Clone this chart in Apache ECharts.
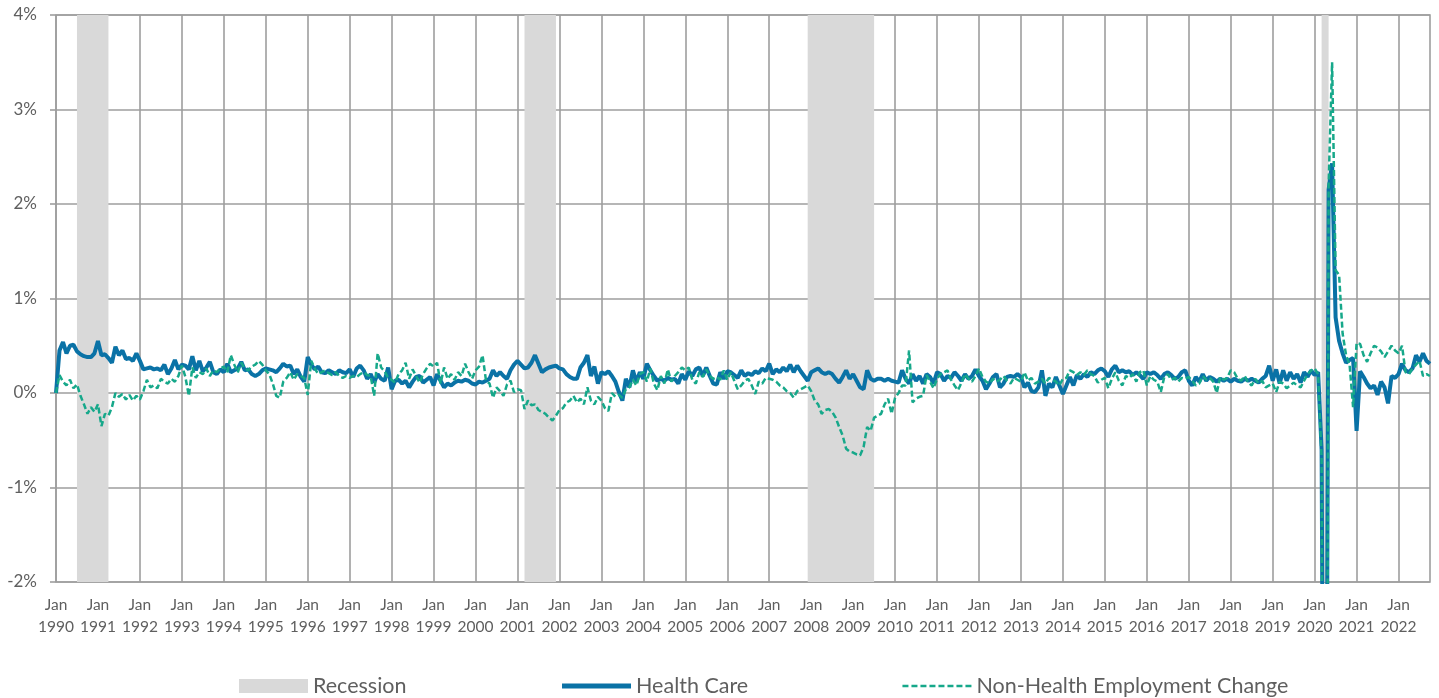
<!DOCTYPE html>
<html>
<head>
<meta charset="utf-8">
<script src="https://cdn.jsdelivr.net/npm/echarts@6/dist/echarts.min.js"></script>
<style>
  html, body { margin: 0; padding: 0; background: #ffffff; }
  #chart { width: 1439px; height: 698px; }
</style>
</head>
<body>
<div id="chart"></div>
<script>
// Monthly % change, Jan 1990 – Oct 2022
const healthCare = [
  0.00, 0.45, 0.54, 0.42, 0.50, 0.51, 0.44, 0.41, 0.39, 0.38, 0.38, 0.42, // 1990
  0.55, 0.40, 0.41, 0.37, 0.32, 0.49, 0.40, 0.45, 0.36, 0.37, 0.34, 0.42, // 1991
  0.34, 0.25, 0.26, 0.27, 0.25, 0.26, 0.24, 0.30, 0.20, 0.26, 0.35, 0.25, // 1992
  0.30, 0.29, 0.25, 0.39, 0.24, 0.34, 0.23, 0.27, 0.33, 0.22, 0.20, 0.25, // 1993
  0.22, 0.31, 0.22, 0.24, 0.26, 0.33, 0.24, 0.25, 0.20, 0.18, 0.20, 0.24, // 1994
  0.26, 0.25, 0.24, 0.22, 0.26, 0.31, 0.28, 0.29, 0.20, 0.25, 0.17, 0.12, // 1995
  0.38, 0.30, 0.25, 0.28, 0.22, 0.21, 0.24, 0.22, 0.20, 0.24, 0.22, 0.21, // 1996
  0.25, 0.17, 0.26, 0.29, 0.24, 0.15, 0.20, 0.11, 0.20, 0.15, 0.13, 0.27, // 1997
  0.04, 0.13, 0.14, 0.10, 0.13, 0.06, 0.12, 0.17, 0.18, 0.11, 0.14, 0.17, // 1998
  0.08, 0.20, 0.13, 0.06, 0.10, 0.08, 0.11, 0.13, 0.12, 0.14, 0.13, 0.10, // 1999
  0.09, 0.12, 0.11, 0.13, 0.15, 0.24, 0.18, 0.22, 0.18, 0.15, 0.24, 0.30, // 2000
  0.34, 0.30, 0.26, 0.27, 0.32, 0.40, 0.31, 0.22, 0.25, 0.27, 0.28, 0.29, // 2001
  0.26, 0.25, 0.20, 0.17, 0.15, 0.15, 0.27, 0.32, 0.40, 0.18, 0.28, 0.10, // 2002
  0.22, 0.20, 0.23, 0.18, 0.12, 0.01, -0.08, 0.15, 0.06, 0.24, 0.12, 0.22, // 2003
  0.15, 0.31, 0.24, 0.18, 0.13, 0.15, 0.13, 0.16, 0.14, 0.15, 0.10, 0.20, // 2004
  0.14, 0.23, 0.18, 0.25, 0.27, 0.18, 0.27, 0.18, 0.10, 0.09, 0.22, 0.15, // 2005
  0.23, 0.22, 0.19, 0.16, 0.24, 0.18, 0.21, 0.19, 0.23, 0.21, 0.26, 0.23, // 2006
  0.31, 0.20, 0.25, 0.22, 0.27, 0.23, 0.30, 0.22, 0.29, 0.23, 0.18, 0.13, // 2007
  0.22, 0.24, 0.26, 0.22, 0.20, 0.22, 0.20, 0.15, 0.11, 0.17, 0.24, 0.15, // 2008
  0.20, 0.13, 0.06, 0.04, 0.24, 0.15, 0.13, 0.15, 0.15, 0.13, 0.15, 0.13, // 2009
  0.12, 0.11, 0.24, 0.15, 0.10, 0.20, 0.13, 0.18, 0.10, 0.20, 0.17, 0.10, // 2010
  0.22, 0.20, 0.13, 0.18, 0.16, 0.22, 0.18, 0.13, 0.20, 0.15, 0.18, 0.25, // 2011
  0.18, 0.13, 0.04, 0.10, 0.17, 0.20, 0.06, 0.10, 0.17, 0.18, 0.17, 0.20, // 2012
  0.17, 0.06, 0.11, 0.02, 0.01, 0.06, 0.24, -0.03, 0.10, 0.06, 0.17, 0.08, // 2013
  -0.01, 0.08, 0.17, 0.08, 0.19, 0.15, 0.20, 0.17, 0.22, 0.20, 0.24, 0.26, // 2014
  0.23, 0.17, 0.25, 0.29, 0.22, 0.24, 0.22, 0.23, 0.19, 0.22, 0.19, 0.15, // 2015
  0.22, 0.20, 0.22, 0.19, 0.15, 0.20, 0.22, 0.19, 0.15, 0.17, 0.22, 0.24, // 2016
  0.13, 0.08, 0.17, 0.12, 0.20, 0.13, 0.17, 0.15, 0.12, 0.15, 0.13, 0.15, // 2017
  0.12, 0.15, 0.13, 0.12, 0.15, 0.13, 0.15, 0.13, 0.11, 0.15, 0.18, 0.29, // 2018
  0.13, 0.25, 0.10, 0.24, 0.13, 0.22, 0.15, 0.20, 0.11, 0.22, 0.17, 0.24, // 2019
  0.19, 0.22, -0.60, -8.50, 2.15, 2.43, 0.80, 0.55, 0.42, 0.32, 0.35, 0.37, // 2020
  -0.40, 0.23, 0.17, 0.10, 0.05, 0.08, -0.02, 0.12, 0.06, -0.11, 0.18, 0.16, // 2021
  0.20, 0.31, 0.24, 0.22, 0.26, 0.40, 0.33, 0.42, 0.34, 0.31              // 2022
];

const nonHealth = [
  0.00, 0.19, 0.12, 0.08, 0.14, 0.05, 0.09, -0.03, -0.12, -0.22, -0.15, -0.20, // 1990
  -0.12, -0.35, -0.22, -0.24, -0.15, 0.00, -0.04, -0.01, -0.07, -0.02, -0.08, -0.03, // 1991
  -0.07, 0.02, 0.14, 0.06, 0.08, 0.05, 0.15, 0.12, 0.10, 0.15, 0.12, 0.18, // 1992
  0.29, 0.17, -0.03, 0.27, 0.16, 0.22, 0.20, 0.26, 0.18, 0.24, 0.22, 0.26, // 1993
  0.28, 0.22, 0.40, 0.30, 0.22, 0.32, 0.26, 0.24, 0.28, 0.30, 0.34, 0.30, // 1994
  0.24, 0.20, 0.10, -0.03, -0.05, 0.12, 0.16, 0.22, 0.14, 0.20, 0.18, 0.16, // 1995
  -0.02, 0.34, 0.26, 0.20, 0.22, 0.24, 0.21, 0.19, 0.22, 0.18, 0.16, 0.18, // 1996
  0.16, 0.18, 0.17, 0.20, 0.22, 0.19, 0.18, -0.03, 0.42, 0.27, 0.23, 0.16, // 1997
  0.14, 0.11, 0.20, 0.24, 0.32, 0.15, 0.25, 0.18, 0.11, 0.20, 0.26, 0.31, // 1998
  0.28, 0.32, 0.10, 0.27, 0.15, 0.20, 0.14, 0.22, 0.18, 0.31, 0.22, 0.15, // 1999
  0.24, 0.28, 0.40, 0.13, 0.10, -0.05, 0.06, 0.02, -0.03, 0.09, 0.13, 0.01, // 2000
  0.04, 0.03, -0.17, -0.08, -0.13, -0.12, -0.18, -0.20, -0.22, -0.26, -0.29, -0.24, // 2001
  -0.18, -0.16, -0.10, -0.08, -0.03, -0.10, -0.06, -0.12, 0.06, -0.08, -0.12, -0.04, // 2002
  -0.08, -0.16, -0.19, 0.00, -0.04, -0.02, -0.05, 0.04, 0.06, 0.14, 0.08, 0.20, // 2003
  0.22, 0.12, 0.26, 0.10, 0.03, 0.18, 0.10, 0.25, 0.12, 0.18, 0.22, 0.27, // 2004
  0.24, 0.27, 0.14, 0.10, 0.22, 0.17, 0.25, 0.18, 0.15, 0.17, 0.14, 0.24, // 2005
  0.14, 0.22, 0.13, 0.04, 0.08, 0.13, 0.15, 0.08, -0.01, 0.12, 0.10, 0.16, // 2006
  0.15, 0.14, 0.12, 0.08, 0.06, 0.02, 0.00, -0.05, 0.02, 0.04, 0.06, 0.08, // 2007
  0.02, -0.08, -0.12, -0.22, -0.18, -0.17, -0.20, -0.26, -0.36, -0.45, -0.59, -0.62, // 2008
  -0.63, -0.65, -0.66, -0.57, -0.36, -0.40, -0.26, -0.24, -0.22, -0.12, -0.06, -0.22, // 2009
  -0.05, 0.00, 0.08, 0.08, 0.45, -0.10, -0.06, -0.04, -0.03, 0.19, 0.12, 0.05, // 2010
  0.15, 0.20, 0.22, 0.24, 0.14, 0.08, 0.03, 0.11, 0.20, 0.15, 0.12, 0.18, // 2011
  0.26, 0.17, 0.12, 0.10, 0.15, 0.12, 0.14, 0.18, 0.13, 0.10, 0.16, 0.14, // 2012
  0.12, 0.22, 0.13, 0.16, 0.10, 0.12, 0.15, 0.10, 0.16, 0.14, 0.12, 0.08, // 2013
  0.15, 0.16, 0.24, 0.22, 0.19, 0.22, 0.19, 0.24, 0.20, 0.18, 0.11, 0.14, // 2014
  0.16, 0.05, 0.15, 0.22, 0.13, 0.08, 0.18, 0.16, 0.20, 0.12, 0.22, 0.24, // 2015
  0.08, 0.18, 0.14, 0.12, 0.01, 0.17, 0.20, 0.14, 0.16, 0.12, 0.16, 0.15, // 2016
  0.17, 0.13, 0.08, 0.10, 0.18, 0.14, 0.16, 0.12, 0.00, 0.17, 0.14, 0.16, // 2017
  0.24, 0.22, 0.15, 0.13, 0.18, 0.11, 0.08, 0.15, 0.10, 0.13, 0.06, 0.08, // 2018
  0.10, 0.01, 0.12, 0.10, 0.05, 0.08, 0.11, 0.08, 0.06, 0.13, 0.20, 0.24, // 2019
  0.26, 0.20, -0.70, -13.50, 2.20, 3.50, 1.30, 1.25, 0.63, 0.40, 0.30, -0.15, // 2020
  0.53, 0.52, 0.40, 0.33, 0.42, 0.50, 0.48, 0.44, 0.38, 0.44, 0.50, 0.45, // 2021
  0.42, 0.50, 0.22, 0.20, 0.26, 0.30, 0.34, 0.18, 0.20, 0.18              // 2022
];

const recessions = [
  ['1990-07', '1991-04'],
  ['2001-03', '2001-12'],
  ['2007-12', '2009-07'],
  ['2020-03', '2020-05']
];

const yTicks = [-2, -1, 0, 1, 2, 3, 4];
const seriesNames = ['Recession', 'Health Care', 'Non-Health Employment Change'];

// month categories
const months = [];
for (let i = 0; i < healthCare.length; i++) {
  const y = 1990 + Math.floor(i / 12);
  const m = (i % 12) + 1;
  months.push(y + '-' + (m < 10 ? '0' + m : m));
}
const isJan = (idx) => idx % 12 === 0;

const gridColor = '#9e9e9e';
const textColor = '#5f5f5f';
const fontFam = 'Lato, "Open Sans", sans-serif';
const hcColor = '#0a72a6';
const nhColor = '#16a88a';
const hiddenSymbol = { color: 'transparent', borderWidth: 0, opacity: 0 };

const chart = echarts.init(document.getElementById('chart'), null, { renderer: 'canvas' });
chart.setOption({
  animation: false,
  backgroundColor: '#ffffff',
  grid: {
    left: 56, right: 9, top: 15, bottom: 116,
    show: true, borderColor: gridColor, borderWidth: 1.6, backgroundColor: 'transparent'
  },
  legend: {
    left: 234, top: 670,
    itemWidth: 69, itemHeight: 14, itemGap: 153,
    textStyle: { color: textColor, fontSize: 21.5, fontFamily: fontFam },
    data: [
      { name: seriesNames[0], icon: 'rect', itemStyle: { color: '#d9d9d9' } },
      { name: seriesNames[1], itemStyle: hiddenSymbol, lineStyle: { width: 5 } },
      { name: seriesNames[2], itemStyle: hiddenSymbol, lineStyle: { width: 2.5 } }
    ]
  },
  xAxis: {
    type: 'category',
    data: months,
    boundaryGap: false,
    axisLine: { show: false, onZero: false },
    axisTick: { show: false },
    splitLine: {
      show: true,
      interval: (idx) => isJan(idx),
      lineStyle: { color: gridColor, width: 1.6 }
    },
    axisLabel: {
      interval: (idx) => isJan(idx),
      formatter: (val) => 'Jan\n' + val.slice(0, 4),
      color: textColor, fontSize: 15.5, fontFamily: fontFam,
      lineHeight: 22, margin: 12
    }
  },
  yAxis: {
    type: 'value',
    min: yTicks[0], max: yTicks[yTicks.length - 1], interval: 1,
    axisLine: { show: false },
    axisTick: { show: true, length: 6, lineStyle: { color: gridColor, width: 1.6 } },
    splitLine: { show: true, lineStyle: { color: gridColor, width: 1.6 } },
    axisLabel: {
      formatter: (v) => v + '%',
      color: textColor, fontSize: 17, fontFamily: fontFam, margin: 19
    }
  },
  series: [
    {
      name: seriesNames[0],
      type: 'line',
      data: [],
      itemStyle: { color: '#d9d9d9' },
      markArea: {
        silent: true,
        itemStyle: { color: '#d9d9d9', opacity: 1 },
        data: recessions.map(r => [{ xAxis: r[0] }, { xAxis: r[1] }])
      }
    },
    {
      name: seriesNames[1],
      type: 'line',
      data: healthCare,
      showSymbol: false,
      symbol: 'none',
      itemStyle: { color: hcColor },
      lineStyle: { color: hcColor, width: 4 },
      z: 3
    },
    {
      name: seriesNames[2],
      type: 'line',
      data: nonHealth,
      showSymbol: false,
      symbol: 'none',
      itemStyle: { color: nhColor },
      lineStyle: { color: nhColor, width: 2.5, type: [6, 3] },
      z: 4
    }
  ]
});
</script>
</body>
</html>
